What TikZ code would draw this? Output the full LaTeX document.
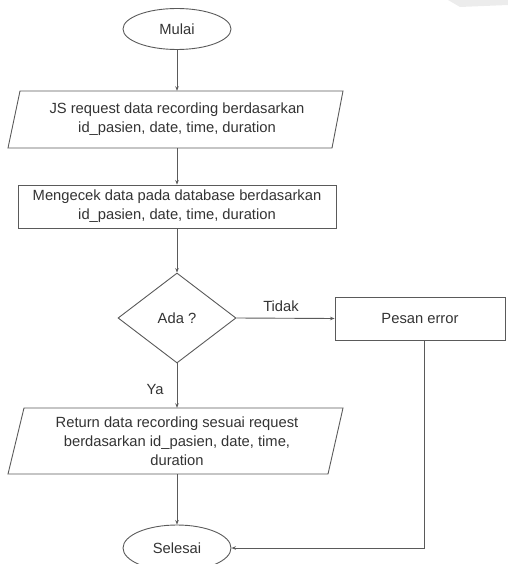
\documentclass[tikz,border=0pt]{standalone}
\usepackage{fontspec}
\setmainfont{Liberation Sans}
\usetikzlibrary{shapes.geometric,arrows.meta}
\definecolor{ln}{HTML}{5A5A5A}
\definecolor{tx}{HTML}{333333}
\begin{document}
\begin{tikzpicture}[x=1bp,y=-1bp,
  every node/.style={font=\fontsize{14.8}{19}\selectfont, text=tx},
  term/.style={ellipse, draw=ln, line width=0.9bp, minimum width=108bp, inner sep=0pt},
  boxn/.style={rectangle, draw=ln, line width=0.9bp, inner sep=0pt, align=center},
  plain/.style={inner sep=0pt, align=center},
  dec/.style={diamond, draw=ln, line width=0.9bp, inner sep=0pt},
  flow/.style={draw=ln, line width=0.9bp, -{Stealth[length=4.5bp,width=3.5bp]}},
  edge/.style={draw=ln, line width=0.9bp, line join=miter},
  lbl/.style={inner sep=0pt}]
\useasboundingbox (0,0) rectangle (508,564);
\fill[gray!15] (448,0) -- (460,7) -- (508,5) -- (508,0) -- cycle;
% nodes
\node[term, minimum height=41bp] (mulai) at (177,29) {Mulai};
\node[plain, minimum width=300bp, minimum height=57bp] (p1) at (177,119.5)
  {JS request data recording berdasarkan\\id\_pasien, date, time, duration};
\draw[edge] (20,91) -- (343,91) -- (332,148) -- (8,148) -- cycle;
\node[boxn, minimum width=318bp, minimum height=43bp] (cek) at (177,206.5)
  {Mengecek data pada database berdasarkan\\id\_pasien, date, time, duration};
\node[dec, minimum width=118bp, minimum height=90bp] (ada) at (177,318) {Ada ?};
\node[boxn, minimum width=170bp, minimum height=43bp] (err) at (420,318.5) {Pesan error};
\node[plain, minimum width=300bp, minimum height=66bp] (p3) at (177,441)
  {Return data recording sesuai request\\berdasarkan id\_pasien, date, time,\\duration};
\draw[edge] (24,408) -- (343,408) -- (328,474) -- (8,474) -- cycle;
\node[term, minimum height=46bp] (selesai) at (177,548) {Selesai};
\node[lbl] (tidak) at (281,306) {Tidak};
\node[lbl] (ya) at (155,389) {Ya};
% connectors
\draw[flow] (mulai.south) -- (p1.north);
\draw[flow] (p1.south) -- (cek.north);
\draw[flow] (cek.south) -- (ada.north);
\draw[flow] (ada.east) -- (err.west);
\draw[flow] (ada.south) -- (p3.north);
\draw[flow] (p3.south) -- (selesai.north);
\draw[flow] ([xshift=4bp]err.south) |- (selesai.east);
\end{tikzpicture}
\end{document}
